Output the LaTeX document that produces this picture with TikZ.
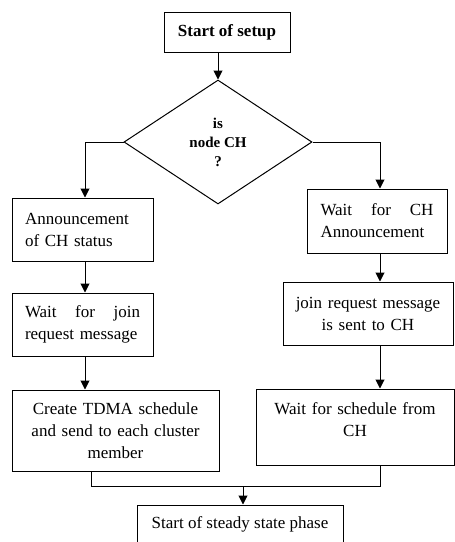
\documentclass[tikz,border=0pt]{standalone}
\usepackage{fontspec}
\setmainfont{Liberation Serif}
\usetikzlibrary{shapes.geometric}
\usetikzlibrary{arrows.meta}

\begin{document}
\begin{tikzpicture}[x = 1pt, y = -1pt, line width = 1pt,
		box/.style = {draw, rectangle, inner sep = 0pt, font = \fontsize{17}{22}\selectfont},
		arr/.style = {-{Triangle[length = 9pt, width = 9pt]}}]
		\useasboundingbox (0,0) rectangle (455,542);
		\node [box, minimum width = 126pt, minimum height = 40pt, font = \bfseries\fontsize{17}{22}\selectfont] (setup) at (227, 32) {Start of setup};
		\node [draw, diamond, aspect = 1.516, minimum width = 188pt, minimum height = 124pt, inner sep = 0pt, align = center, font = \bfseries\fontsize{15}{19}\selectfont] (dec) at (218, 142) {is\\node CH\\?};
		\node [box, minimum width = 141pt, minimum height = 63pt, text width = 115pt, align = left] (announce) at (82.5, 229.5) {Announcement\\of CH status};
		\node [box, minimum width = 141pt, minimum height = 63pt, text width = 115pt, align = left] (waitjoin) at (82.5, 324.5) {Wait\hfill for\hfill join\\request message};
		\node [box, minimum width = 207pt, minimum height = 81pt, text width = 185pt, align = center] (tdma) at (115.5, 430.5) {Create TDMA schedule\\and send to each cluster\\member};
		\node [box, minimum width = 140pt, minimum height = 64pt, text width = 113pt, align = left] (waitch) at (377, 221) {Wait\hfill for\hfill CH\\Announcement};
		\node [box, minimum width = 170pt, minimum height = 63pt, text width = 150pt, align = center] (sent) at (368, 313.5) {join request message\\is sent to CH};
		\node [box, minimum width = 198pt, minimum height = 76pt, text width = 185pt, align = center] (waitsch) at (355, 427) {Wait for schedule from\\CH\\[-8pt]\mbox{}};
		\node [box, minimum width = 206pt, minimum height = 38pt] (steady) at (240, 524) {Start of steady state phase};
		% turning points of the connectors
		\coordinate (lx) at (85, 0);
		\coordinate (rx) at (380, 0);
		\coordinate (lm) at (91, 486);
		\coordinate (rm) at (380, 486);
		\coordinate (merge) at (243, 486);
		\draw [arr] (setup.south -| dec.north) -- (dec.north);
		\draw [arr] (dec.west) -| (announce.north -| lx);
		\draw [arr] (dec.east) -| (waitch.north -| rx);
		\draw [arr] (announce.south -| lx) -- (waitjoin.north -| lx);
		\draw [arr] (waitjoin.south -| lx) -- (tdma.north -| lx);
		\draw [arr] (waitch.south -| rx) -- (sent.north -| rx);
		\draw [arr] (sent.south -| rx) -- (waitsch.north -| rx);
		\draw (tdma.south -| lm) -- (lm) -- (rm) -- (waitsch.south -| rm);
		\draw [arr] (merge) -- (steady.north -| merge);
	\end{tikzpicture}
\end{document}
